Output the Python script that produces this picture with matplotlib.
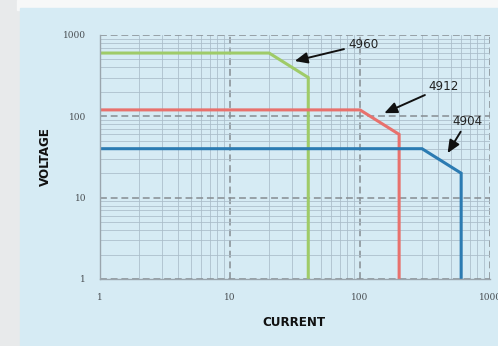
import matplotlib
matplotlib.use('Agg')
import matplotlib.pyplot as plt
from matplotlib.patches import Rectangle

# dane (prąd, napięcie)
i_4960 = [1, 20, 40, 40]
v_4960 = [600, 600, 300, 1]
i_4912 = [1, 100, 200, 200]
v_4912 = [120, 120, 60, 1]
i_4904 = [1, 300, 600, 600]
v_4904 = [40, 40, 20, 1]

tick_vals = [1, 10, 100, 1000]
tick_labels = ['1', '10', '100', '1000']

fig = plt.figure(figsize=(4.98, 3.46), dpi=100, facecolor='#e8eaeb')
fig.patches.append(Rectangle((17/498, 1-10/346), 1, 10/346, transform=fig.transFigure,
                             color='#f7f8f8', zorder=-10))
fig.patches.append(Rectangle((20/498, 0), 1, 1-8/346, transform=fig.transFigure,
                             color='#d6ebf4', zorder=-10))

ax = fig.add_axes([100/498, 1-279/346, 390/498, 244/346])
ax.set_facecolor('#d6ebf4')
ax.set_xscale('log')
ax.set_yscale('log')
ax.set_xlim(1, 1000)
ax.set_ylim(1, 1000)

ax.grid(which='minor', color='#a9bcc8', linewidth=0.55, linestyle='-')
ax.grid(which='major', color='#868c92', linewidth=1.1, linestyle=(0, (4.5, 2.5)))
ax.set_axisbelow(True)
for s in ['top', 'right']:
    ax.spines[s].set_visible(False)
for s in ['left', 'bottom']:
    ax.spines[s].set_color('#9aa5ad')
    ax.spines[s].set_linewidth(1.0)

ax.plot(i_4960, v_4960, color='#9fcb68', lw=2.2, solid_joinstyle='miter')
ax.plot(i_4912, v_4912, color='#e8716d', lw=2.2, solid_joinstyle='miter')
ax.plot(i_4904, v_4904, color='#2b7bb2', lw=2.2, solid_joinstyle='miter')

ax.set_xticks(tick_vals)
ax.set_xticklabels(tick_labels)
ax.set_yticks(tick_vals)
ax.set_yticklabels(tick_labels)
ax.tick_params(which='both', length=0)
ax.tick_params(axis='x', pad=10, labelsize=6.5, labelcolor='#4a4f53')
ax.tick_params(axis='y', pad=10, labelsize=6.5, labelcolor='#4a4f53')
for t in ax.get_xticklabels() + ax.get_yticklabels():
    t.set_family('DejaVu Serif')

lab = dict(family='DejaVu Sans', fontstretch='condensed', fontweight='heavy', fontsize=9.5,
           color='#111111', ha='center', va='center')
fig.text(294/498, 1-323/346, 'CURRENT', **lab)
fig.text(45/498, 1-157/346, 'VOLTAGE', rotation=90, **lab)

ann = dict(family='DejaVu Sans', fontstretch='condensed', fontsize=9.5, color='#222222', va='center')
arr = dict(arrowstyle='-|>,head_length=0.8,head_width=0.35', color='#111111', lw=1.4, shrinkA=1)
ax.annotate('4960', xy=(30, 470), xytext=(81, 765), arrowprops=arr, ha='left', **ann)
ax.annotate('4912', xy=(147, 106), xytext=(339, 233), arrowprops=arr, ha='left', **ann)
ax.annotate('4904', xy=(460, 33), xytext=(510, 87), arrowprops=arr, ha='left', **ann)

fig.savefig('out.png', dpi=100, facecolor=fig.get_facecolor())
